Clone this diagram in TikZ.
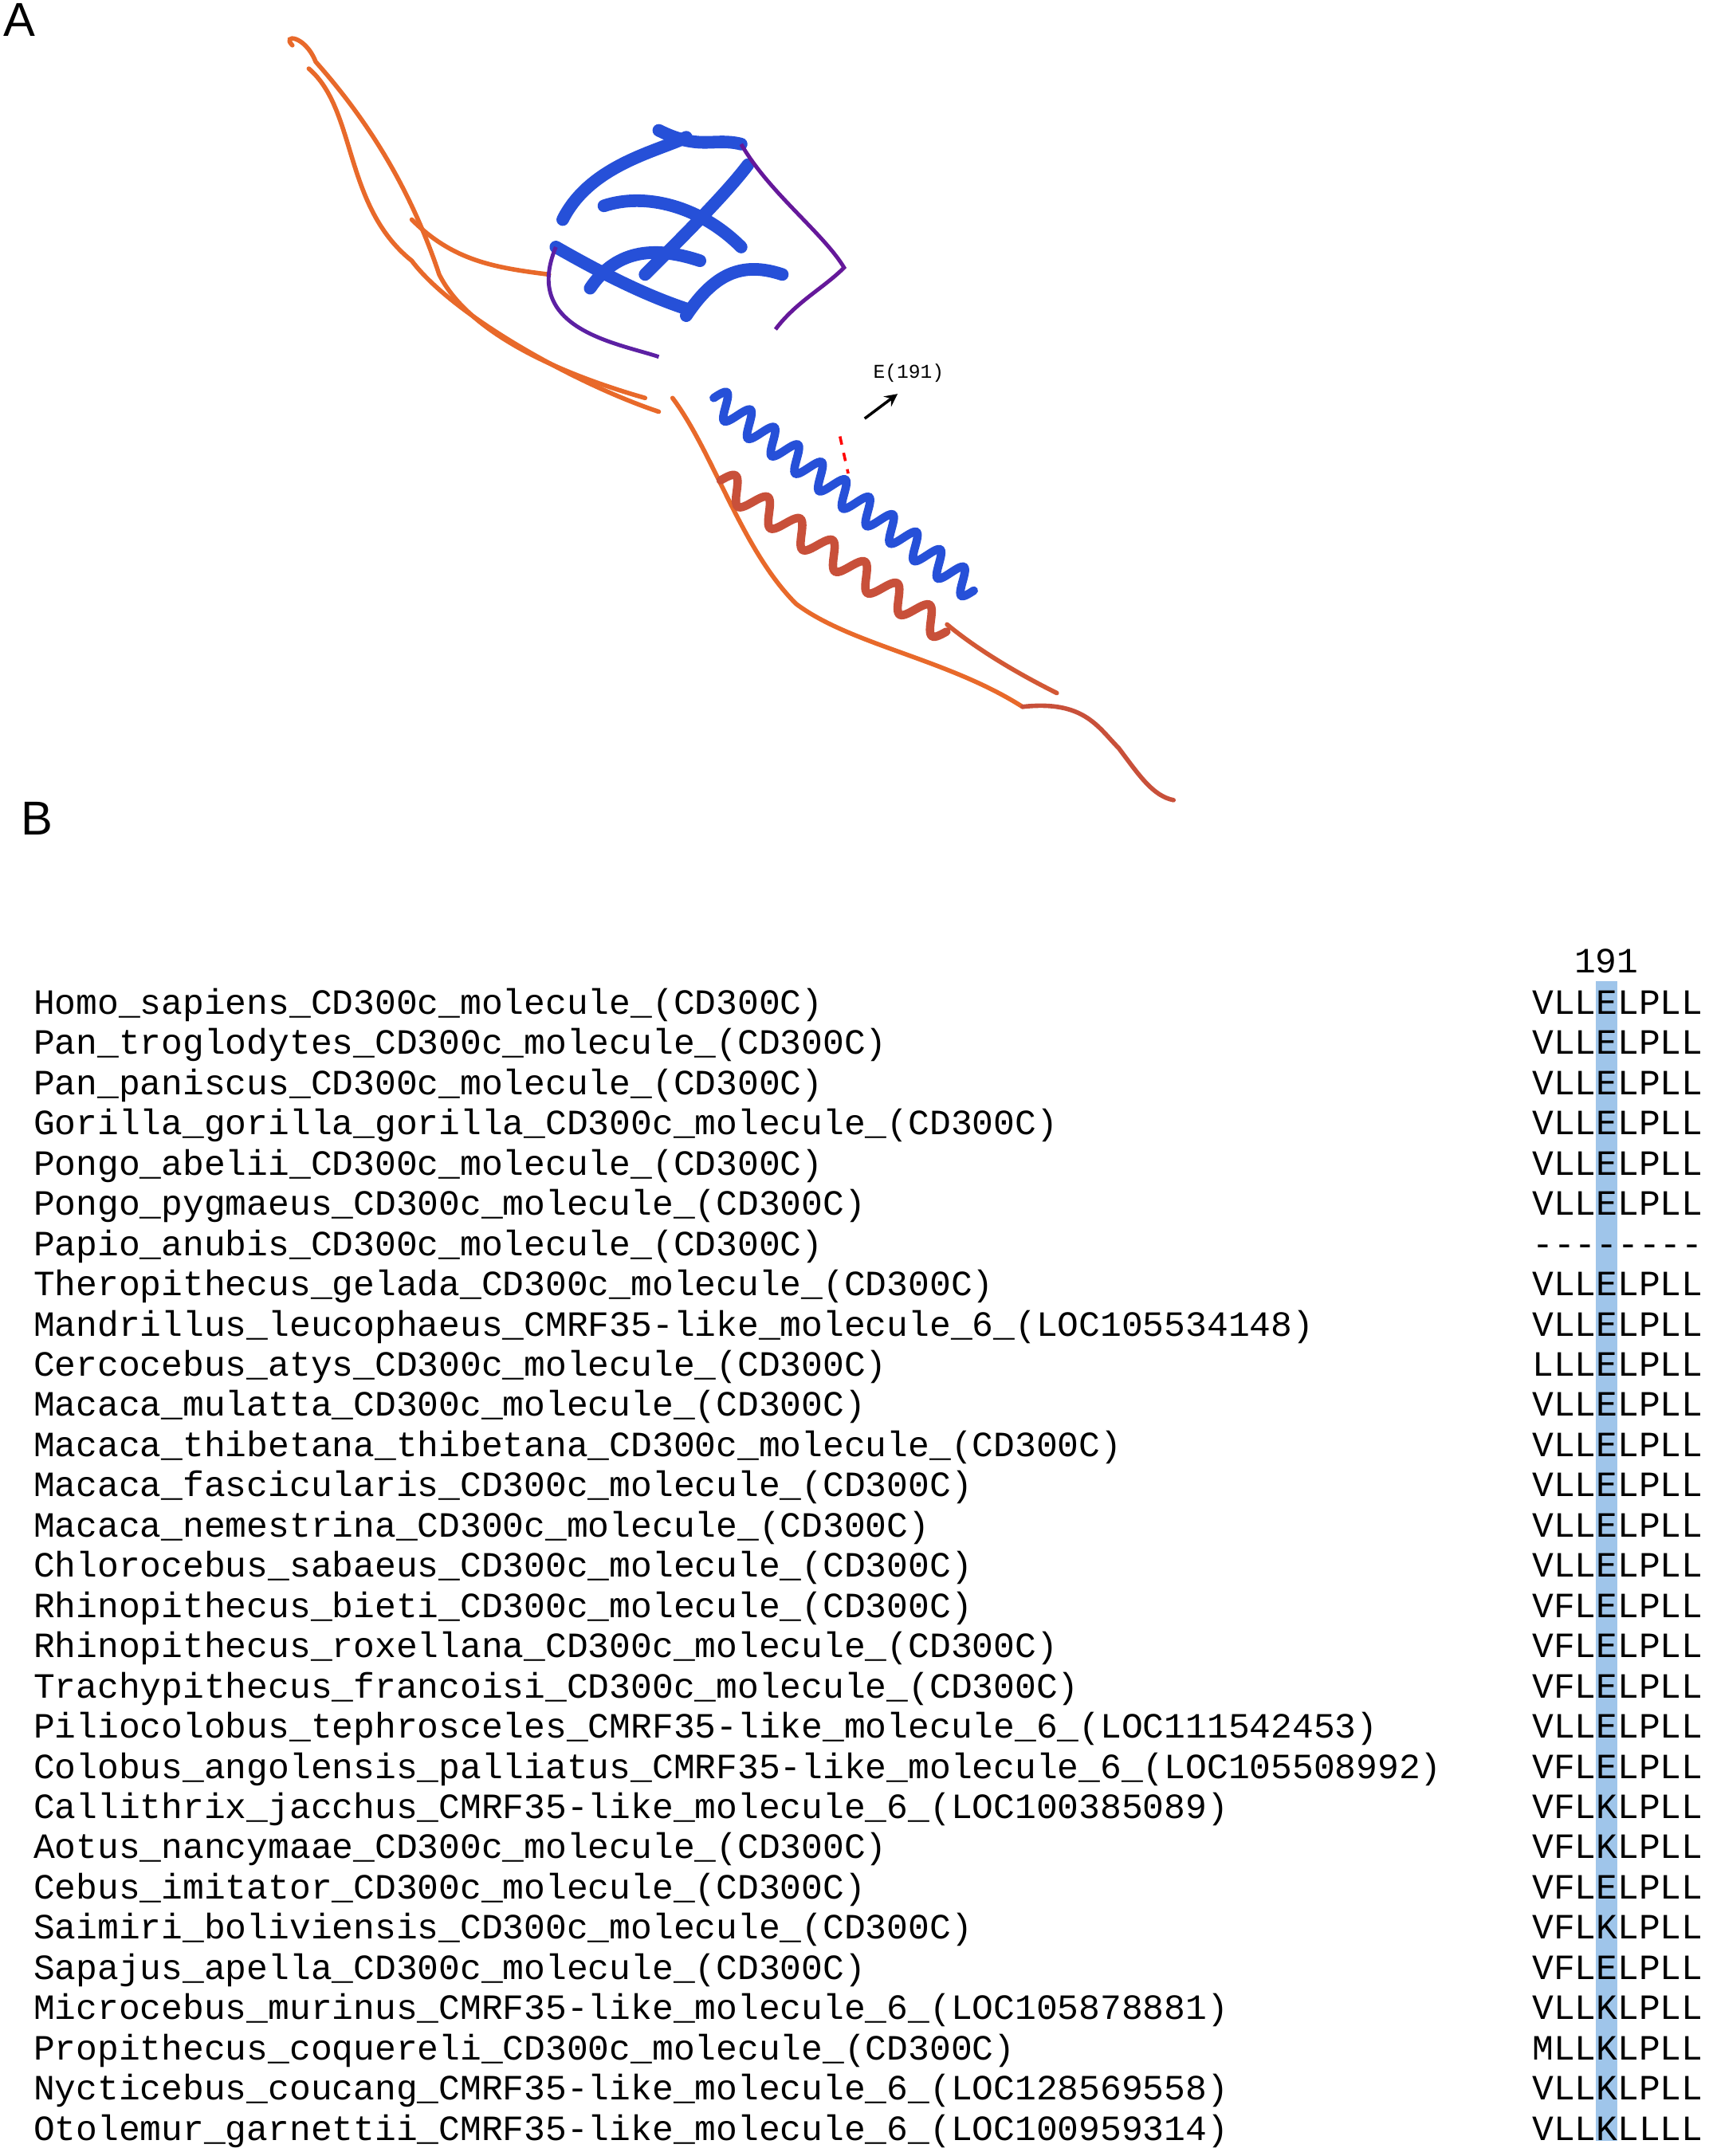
\documentclass[tikz,border=0pt]{standalone}
\usepackage{fontspec}
\setmainfont{Liberation Sans}
\newfontfamily\monofont{Liberation Mono}
\definecolor{hilite}{HTML}{9FC5EA}
\definecolor{coilorange}{HTML}{E8692A}
\definecolor{domainblue}{HTML}{2650D8}
\definecolor{helixred}{HTML}{C8503A}
\tikzset{
  rowtext/.style={anchor=base west,inner sep=0,font=\monofont\fontsize{12.7pt}{12.7pt}\selectfont},
  panel/.style={anchor=north west,inner sep=0,font=\fontsize{17pt}{17pt}\selectfont},
  coil/.style={draw=coilorange,line width=1.6pt,line cap=round},
  sheet/.style={draw=domainblue,line width=4.5pt,line cap=round},
}
\begin{document}
\catcode`\_=12
\begin{tikzpicture}[x=0.01722cm,y=-0.01722cm]
  \useasboundingbox (0,0) rectangle (1245,1571);
  % panel labels
  \node[panel] (pa) at (2,2) {A};
  \node[panel] (pb) at (15,584) {B};
  % structure, loose coils
  \draw[coil] (213,33) .. controls (205,25) and (222,25) .. (230,45)
    .. controls (270,90) and (300,140) .. (320,200)
    .. controls (340,240) and (400,270) .. (470,290);
  \draw[coil] (225,50) .. controls (260,80) and (250,150) .. (300,190)
    .. controls (330,230) and (420,280) .. (480,300);
  \draw[coil] (300,160) .. controls (330,190) and (360,195) .. (400,200);
  \draw[coil] (490,290) .. controls (520,330) and (540,400) .. (580,440)
    .. controls (620,470) and (690,480) .. (745,515);
  \draw[coil,draw=helixred] (745,515) .. controls (790,510) and (800,530) .. (815,545)
    .. controls (830,565) and (840,580) .. (855,583);
  \draw[coil,draw=helixred!70!coilorange] (690,455) .. controls (720,480) and (760,500) .. (770,505);
  % folded domain
  \draw[sheet] (410,160) .. controls (430,120) and (480,110) .. (500,100);
  \draw[sheet] (405,180) .. controls (440,200) and (470,215) .. (500,225);
  \draw[sheet] (440,150) .. controls (470,140) and (510,150) .. (540,180);
  \draw[sheet] (470,200) .. controls (500,170) and (530,140) .. (545,120);
  \draw[sheet] (500,230) .. controls (520,200) and (540,190) .. (570,200);
  \draw[sheet] (480,95) .. controls (510,110) and (520,100) .. (540,105);
  \draw[sheet] (430,210) .. controls (450,180) and (480,180) .. (510,190);
  \draw[draw=violet!70!domainblue,line width=1.4pt] (540,105) .. controls (560,140) and (600,170) .. (615,195)
    .. controls (600,210) and (580,220) .. (565,240);
  \draw[draw=violet!60!domainblue,line width=1.4pt] (405,180) .. controls (380,240) and (450,250) .. (480,260);
  % helices
  \draw[domainblue,line width=3pt,line cap=round]
    plot[domain=0:1,samples=300] ({520+190*\x+9*sin(\x*11*360)*0.59},{290+140*\x-9*sin(\x*11*360)*0.81});
  \draw[helixred,line width=3pt,line cap=round]
    plot[domain=0:1,samples=200] ({525+165*\x+9*sin(\x*7*360)*0.56},{350+110*\x-9*sin(\x*7*360)*0.83});
  \draw[red,line width=1pt,dashed] (612,318) -- (618,345);
  % residue mark
  \coordinate (tail) at (630,305);
  \node[inner sep=1pt,font=\monofont\fontsize{7pt}{7pt}\selectfont] (res) at (662,272) {E(191)};
  \draw[-stealth,line width=1pt] (tail) -- (654,287);
  % alignment
  \fill[hilite] (1116+3*15.55,715) rectangle (1116+4*15.55,1560);
  \node[rowtext,anchor=base] (pos) at (1116+3.5*15.55,709) {191};
  \foreach \nm/\sq [count=\i] in {
    Homo_sapiens_CD300c_molecule_(CD300C)/VLLELPLL,
    Pan_troglodytes_CD300c_molecule_(CD300C)/VLLELPLL,
    Pan_paniscus_CD300c_molecule_(CD300C)/VLLELPLL,
    Gorilla_gorilla_gorilla_CD300c_molecule_(CD300C)/VLLELPLL,
    Pongo_abelii_CD300c_molecule_(CD300C)/VLLELPLL,
    Pongo_pygmaeus_CD300c_molecule_(CD300C)/VLLELPLL,
    Papio_anubis_CD300c_molecule_(CD300C)/--------,
    Theropithecus_gelada_CD300c_molecule_(CD300C)/VLLELPLL,
    Mandrillus_leucophaeus_CMRF35-like_molecule_6_(LOC105534148)/VLLELPLL,
    Cercocebus_atys_CD300c_molecule_(CD300C)/LLLELPLL,
    Macaca_mulatta_CD300c_molecule_(CD300C)/VLLELPLL,
    Macaca_thibetana_thibetana_CD300c_molecule_(CD300C)/VLLELPLL,
    Macaca_fascicularis_CD300c_molecule_(CD300C)/VLLELPLL,
    Macaca_nemestrina_CD300c_molecule_(CD300C)/VLLELPLL,
    Chlorocebus_sabaeus_CD300c_molecule_(CD300C)/VLLELPLL,
    Rhinopithecus_bieti_CD300c_molecule_(CD300C)/VFLELPLL,
    Rhinopithecus_roxellana_CD300c_molecule_(CD300C)/VFLELPLL,
    Trachypithecus_francoisi_CD300c_molecule_(CD300C)/VFLELPLL,
    Piliocolobus_tephrosceles_CMRF35-like_molecule_6_(LOC111542453)/VLLELPLL,
    Colobus_angolensis_palliatus_CMRF35-like_molecule_6_(LOC105508992)/VFLELPLL,
    Callithrix_jacchus_CMRF35-like_molecule_6_(LOC100385089)/VFLKLPLL,
    Aotus_nancymaae_CD300c_molecule_(CD300C)/VFLKLPLL,
    Cebus_imitator_CD300c_molecule_(CD300C)/VFLELPLL,
    Saimiri_boliviensis_CD300c_molecule_(CD300C)/VFLKLPLL,
    Sapajus_apella_CD300c_molecule_(CD300C)/VFLELPLL,
    Microcebus_murinus_CMRF35-like_molecule_6_(LOC105878881)/VLLKLPLL,
    Propithecus_coquereli_CD300c_molecule_(CD300C)/MLLKLPLL,
    Nycticebus_coucang_CMRF35-like_molecule_6_(LOC128569558)/VLLKLPLL,
    Otolemur_garnettii_CMRF35-like_molecule_6_(LOC100959314)/VLLKLLLL}{
    \node[rowtext] (name\i) at (24,{739+(\i-1)*29.3}) {\nm};
    \node[rowtext] (seq\i) at (1116,{739+(\i-1)*29.3}) {\sq};
  }
\end{tikzpicture}
\end{document}
